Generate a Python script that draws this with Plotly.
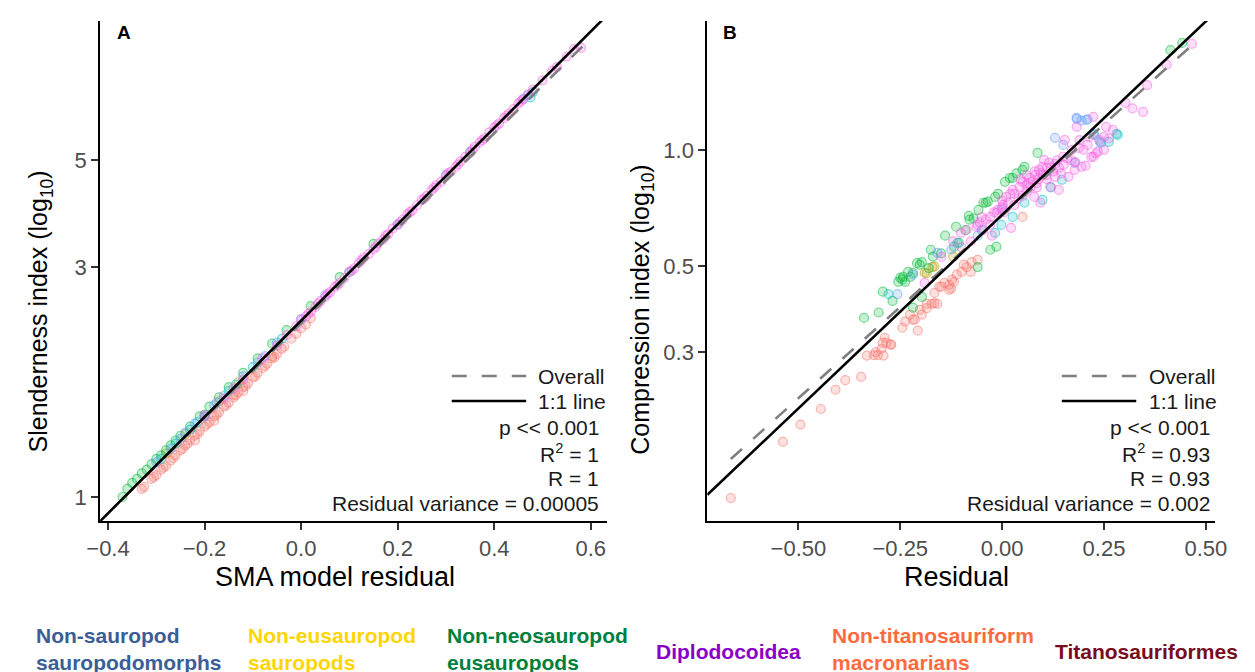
import plotly.graph_objects as go

# ---------------- categories & colours ----------------
groups = ["Diplodocoidea", "Non-eusauropod sauropods", "Non-neosauropod eusauropods",
          "Non-sauropod sauropodomorphs", "Non-titanosauriform macronarians", "Titanosauriformes"]
point_rgb = [(248, 118, 109), (183, 159, 0), (0, 186, 56), (0, 191, 196), (97, 156, 255), (245, 100, 227)]

# ---------------- Panel A: SMA model residual vs slenderness index ----------------
a_diplo_x = [-0.33, -0.31, -0.30, -0.29, -0.28, -0.27, -0.26, -0.25, -0.24, -0.23, -0.22, -0.22, -0.21, -0.20,
             -0.19, -0.18, -0.18, -0.17, -0.16, -0.15, -0.14, -0.14, -0.13, -0.12, -0.12, -0.11, -0.10, -0.09,
             -0.08, -0.07, -0.06, -0.06, -0.05, -0.04, -0.02, 0.00, 0.02,
             -0.325, -0.305, -0.285, -0.265, -0.245, -0.235, -0.215, -0.195, -0.175, -0.155, -0.135,
             -0.115, -0.095, -0.075, -0.055, -0.035, -0.01, 0.01]
a_diplo_y = [1.04, 1.09, 1.11, 1.14, 1.16, 1.19, 1.22, 1.25, 1.28, 1.31, 1.34, 1.31, 1.37, 1.40,
             1.43, 1.47, 1.44, 1.50, 1.54, 1.57, 1.61, 1.63, 1.65, 1.69, 1.66, 1.72, 1.77, 1.81,
             1.85, 1.89, 1.94, 1.96, 1.98, 2.03, 2.13, 2.24, 2.35,
             1.05, 1.10, 1.15, 1.205, 1.26, 1.29, 1.35, 1.415, 1.48, 1.55, 1.625,
             1.70, 1.78, 1.87, 1.95, 2.05, 2.18, 2.28]
a_noneu_x = [-0.28, -0.24, -0.20, -0.17, -0.13]
a_noneu_y = [1.23, 1.35, 1.48, 1.58, 1.73]
a_neo_x = [-0.37, -0.36, -0.35, -0.34, -0.33, -0.32, -0.31, -0.30, -0.29, -0.28, -0.27, -0.26, -0.25,
           -0.23, -0.21, -0.19, -0.17, -0.15, -0.12, -0.09, -0.06, -0.03, 0.02, 0.08, 0.15]
a_neo_y = [1.00, 1.04, 1.07, 1.09, 1.12, 1.14, 1.17, 1.20, 1.22, 1.25, 1.28, 1.31, 1.34,
           1.40, 1.47, 1.54, 1.61, 1.69, 1.81, 1.94, 2.08, 2.22, 2.49, 2.86, 3.35]
a_nonsaur_x = [-0.29, -0.26, -0.23, -0.20, -0.15, -0.10, -0.04, 0.10, 0.20, 0.35, 0.475, 0.48,
               -0.215, -0.135]
a_nonsaur_y = [1.20, 1.29, 1.38, 1.47, 1.66, 1.86, 2.13, 2.93, 3.68, 5.20, 6.75, 6.92,
               1.43, 1.71]
a_nontitan_x = [-0.30, -0.27, -0.25, -0.24, -0.22, -0.20, -0.18, -0.16, -0.12, -0.09, -0.05, 0.00, 0.05,
                0.30, 0.46, 0.47, -0.175, -0.075]
a_nontitan_y = [1.18, 1.26, 1.32, 1.36, 1.42, 1.48, 1.55, 1.62, 1.78, 1.90, 2.09, 2.34, 2.62,
                4.66, 6.70, 6.82, 1.57, 1.96]
a_titan_x = [-0.20, -0.16, -0.14, -0.12, -0.08, -0.05, -0.03, -0.01,
             0.00, 0.01, 0.02, 0.03, 0.04, 0.05, 0.06, 0.07, 0.08, 0.09, 0.10, 0.11, 0.12, 0.13, 0.14,
             0.15, 0.16, 0.17, 0.18, 0.19, 0.20, 0.21, 0.22, 0.23, 0.24, 0.25, 0.26, 0.27, 0.28, 0.29,
             0.30, 0.31, 0.32, 0.33, 0.34, 0.35, 0.36, 0.37, 0.38, 0.39, 0.40, 0.41, 0.42, 0.43, 0.44,
             0.45, 0.46, 0.47, 0.48, 0.50, 0.52, 0.55, 0.58,
             0.055, 0.105, 0.155, 0.205, 0.255, 0.305, 0.355, 0.405,
             0.015, 0.035, 0.075, 0.125, 0.175, 0.225, 0.275, 0.325, 0.375, 0.425, 0.455, 0.53, 0.565]
a_titan_y = [1.47, 1.60, 1.68, 1.75, 1.94, 2.06, 2.17, 2.26,
             2.33, 2.37, 2.42, 2.48, 2.55, 2.60, 2.66, 2.73, 2.78, 2.85, 2.93, 2.98, 3.06, 3.14, 3.19,
             3.27, 3.36, 3.42, 3.51, 3.61, 3.67, 3.76, 3.86, 3.93, 4.03, 4.14, 4.21, 4.33, 4.43, 4.51,
             4.64, 4.73, 4.84, 4.97, 5.08, 5.18, 5.33, 5.44, 5.55, 5.71, 5.84, 5.95, 6.11, 6.24, 6.38,
             6.55, 6.68, 6.84, 7.00, 7.32, 7.66, 8.20, 8.55,
             2.64, 2.95, 3.30, 3.72, 4.16, 4.70, 5.26, 5.90,
             2.40, 2.52, 2.75, 3.10, 3.48, 3.90, 4.38, 4.90, 5.50, 6.18, 6.62, 7.80, 8.50]

a_overall_x = [-0.37, 0.585]
a_overall_y = [0.991, 8.65]
a_one_x = [-0.4162, 0.6345]
a_one_y = [0.891, 10.01]

# ---------------- Panel B: residual vs compression index ----------------
b_diplo_x = [-0.666, -0.538, -0.495, -0.445, -0.409, -0.385, -0.346, -0.332, -0.315, -0.305,
             -0.291, -0.296, -0.284, -0.272, -0.288, -0.293, -0.274, -0.31, -0.245, -0.238,
             -0.219, -0.207, -0.197, -0.185, -0.185, -0.173, -0.166, -0.159, -0.166, -0.149,
             -0.142, -0.13, -0.123, -0.13, -0.226, -0.214, -0.202, -0.154, -0.125, -0.118,
             -0.111, -0.099, -0.087, -0.077, -0.094, -0.075, -0.06, 0.05]
b_diplo_y = [0.126, 0.176, 0.195, 0.214, 0.240, 0.254, 0.259, 0.294, 0.295, 0.295,
             0.294, 0.306, 0.317, 0.314, 0.327, 0.317, 0.314, 0.30, 0.347, 0.36,
             0.364, 0.341, 0.375, 0.39, 0.40, 0.40, 0.402, 0.40, 0.427, 0.443,
             0.453, 0.448, 0.462, 0.435, 0.375, 0.364, 0.386, 0.443, 0.438, 0.456,
             0.476, 0.484, 0.498, 0.484, 0.505, 0.513, 0.52, 0.671]
b_noneu_x = [-0.171, -0.19, -0.166, -0.185, -0.12]
b_noneu_y = [0.498, 0.481, 0.50, 0.48, 0.53]
b_neo_x = [-0.339, -0.303, -0.293, -0.269, -0.255, -0.25, -0.245, -0.243, -0.238, -0.231,
           -0.219, -0.209, -0.202, -0.197, -0.225, -0.18, -0.175, -0.17, -0.118, -0.106,
           -0.113, -0.082, -0.08, -0.07, -0.058, -0.046, -0.04, -0.035, -0.017, -0.01,
           0.007, 0.019, 0.026, 0.035, 0.05, 0.055, 0.087, -0.06, -0.029, -0.014,
           -0.197, -0.219, 0.413, 0.442, -0.15, -0.14, -0.09]
b_neo_y = [0.368, 0.38, 0.43, 0.407, 0.456, 0.467, 0.462, 0.47, 0.456, 0.484,
           0.481, 0.51, 0.505, 0.513, 0.47, 0.495, 0.552, 0.53, 0.562, 0.575,
           0.633, 0.675, 0.66, 0.665, 0.70, 0.73, 0.73, 0.735, 0.756, 0.77,
           0.827, 0.846, 0.846, 0.87, 0.888, 0.904, 0.982, 0.498, 0.552, 0.562,
           0.417, 0.391, 1.81, 1.89, 0.54, 0.60, 0.62]
b_nonsaur_x = [-0.279, -0.11, -0.017, -0.002, 0.026, 0.055, 0.099, 0.147, 0.243, 0.262, 0.281, 0.284,
               0.226, -0.05, 0.12]
b_nonsaur_y = [0.424, 0.575, 0.610, 0.640, 0.671, 0.730, 0.743, 0.837, 1.043, 1.049, 1.10, 1.093,
               1.093, 0.62, 0.80]
b_nontitan_x = [-0.257, -0.219, -0.159, -0.125, 0.13, 0.183, 0.195, 0.21, 0.183, 0.207, 0.15, 0.178,
                0.225, 0.24, 0.0, -0.06]
b_nontitan_y = [0.424, 0.476, 0.542, 0.552, 1.074, 1.21, 1.19, 1.20, 1.203, 1.195, 1.03, 0.926,
                1.10, 1.05, 0.70, 0.60]
b_titan_x = [-0.19, -0.149, -0.101, -0.087, -0.077, -0.063, -0.055, -0.046, -0.04, -0.029,
             -0.025, -0.014, -0.01, 0.002, 0.01, 0.015, 0.022, 0.026, 0.03, 0.043,
             0.05, 0.06, 0.067, 0.075, 0.079, 0.082, 0.091, 0.094, 0.099, 0.103,
             0.108, 0.115, 0.118, 0.125, 0.13, 0.135, 0.139, 0.145, 0.151, 0.154,
             0.163, 0.171, 0.178, 0.183, 0.188, 0.195, 0.205, 0.214, 0.219, 0.224,
             0.23, 0.238, 0.25, 0.255, 0.262, 0.272, 0.303, 0.346, 0.32, 0.356,
             0.404, 0.466, 0.224, -0.12, -0.10, -0.05, 0.0, 0.04, 0.06, 0.07,
             0.085, 0.11, 0.12, 0.16, 0.20, 0.03, 0.05, 0.10, 0.14, -0.03,
             0.005, 0.09, 0.17,
             0.06, 0.08, 0.095, 0.11, 0.065, 0.045, 0.085, 0.13, 0.15, 0.18,
             0.02, 0.0, -0.02, -0.06, 0.21, 0.19, 0.25, 0.235]
b_titan_y = [0.453, 0.529, 0.610, 0.621, 0.58, 0.633, 0.65, 0.621, 0.66, 0.671,
             0.60, 0.688, 0.70, 0.721, 0.756, 0.73, 0.629, 0.788, 0.77, 0.802,
             0.827, 0.81, 0.846, 0.83, 0.756, 0.862, 0.888, 0.730, 0.904, 0.942,
             0.86, 0.926, 0.802, 0.88, 0.852, 0.94, 0.788, 0.87, 0.915, 1.061,
             0.852, 1.0, 0.888, 1.147, 1.012, 0.904, 0.91, 1.080, 0.959, 1.217,
             0.98, 1.061, 1.0, 1.147, 1.07, 1.126, 1.323, 1.254, 1.28, 1.47,
             1.66, 1.88, 0.959, 0.58, 0.56, 0.67, 0.74, 0.75, 0.78, 0.80,
             0.82, 0.84, 0.90, 0.95, 1.0, 0.72, 0.76, 0.86, 0.9, 0.64,
             0.69, 0.84, 0.94,
             0.86, 0.88, 0.87, 0.90, 0.82, 0.84, 0.80, 0.92, 0.96, 0.93,
             0.77, 0.71, 0.69, 0.64, 1.03, 1.06, 1.08, 0.99]

b_overall_x = [-0.666, 0.4615]
b_overall_y = [0.159, 1.845]
b_one_x = [-0.7236, 0.5216]
b_one_y = [0.1284, 2.257]

# stats text
a_stats = ["p << 0.001", "R<sup>2</sup> = 1", "R = 1", "Residual variance = 0.00005"]
b_stats = ["p << 0.001", "R<sup>2</sup> = 0.93", "R = 0.93", "Residual variance = 0.002"]

caption_texts = ["Non-sauropod<br>sauropodomorphs", "Non-eusauropod<br>sauropods", "Non-neosauropod<br>eusauropods",
                 "Diplodocoidea", "Non-titanosauriform<br>macronarians", "Titanosauriformes"]
caption_colors = ["#3B5E97", "#FFD500", "#00803D", "#8A00C8", "#FF6B3E", "#7A0B1E"]

# ---------------- build figure ----------------
W, H = 1255, 672
FONT = "Liberation Sans, Arial, Helvetica, sans-serif"
fig = go.Figure()

a_sets = [(a_diplo_x, a_diplo_y), (a_noneu_x, a_noneu_y), (a_neo_x, a_neo_y),
          (a_nonsaur_x, a_nonsaur_y), (a_nontitan_x, a_nontitan_y), (a_titan_x, a_titan_y)]
b_sets = [(b_diplo_x, b_diplo_y), (b_noneu_x, b_noneu_y), (b_neo_x, b_neo_y),
          (b_nonsaur_x, b_nonsaur_y), (b_nontitan_x, b_nontitan_y), (b_titan_x, b_titan_y)]

for sets, xa, ya in [(a_sets, "x", "y"), (b_sets, "x2", "y2")]:
    for (xs, ys), name, (r, g, b) in zip(sets, groups, point_rgb):
        fig.add_trace(go.Scatter(
            x=xs, y=ys, mode="markers", name=name, showlegend=False, xaxis=xa, yaxis=ya,
            marker=dict(size=9, color=f"rgba({r},{g},{b},0.22)",
                        line=dict(color=f"rgba({r},{g},{b},0.5)", width=1.2))))

for (ox, oy, lx, ly, xa, ya) in [(a_overall_x, a_overall_y, a_one_x, a_one_y, "x", "y"),
                                 (b_overall_x, b_overall_y, b_one_x, b_one_y, "x2", "y2")]:
    fig.add_trace(go.Scatter(x=ox, y=oy, mode="lines", xaxis=xa, yaxis=ya, showlegend=False,
                             line=dict(color="#7F7F7F", width=2.6, dash="15px,15px")))
    fig.add_trace(go.Scatter(x=lx, y=ly, mode="lines", xaxis=xa, yaxis=ya, showlegend=False,
                             line=dict(color="black", width=2.6)))

def px(x):
    return x / W

def py(y):
    return 1 - y / H

ydom = [py(521), py(21)]
axis_common = dict(showline=True, linecolor="black", linewidth=2, ticks="outside", ticklen=7,
                   tickwidth=1.5, tickcolor="#333333", showgrid=False, zeroline=False,
                   tickfont=dict(family=FONT, size=22, color="#4D4D4D"), mirror=False)

fig.update_layout(
    width=W, height=H, margin=dict(l=0, r=0, t=0, b=0),
    plot_bgcolor="white", paper_bgcolor="white", showlegend=False,
    font=dict(family=FONT),
    xaxis=dict(domain=[px(88), px(606)], range=[-0.4162, 0.6345], anchor="y",
               tickvals=[-0.4, -0.2, 0.0, 0.2, 0.4, 0.6], tickformat=".1f", **axis_common),
    yaxis=dict(domain=ydom, type="log", range=[-0.0498, 0.9876], anchor="x",
               tickvals=[1, 3, 5], ticktext=["1", "3", "5"], **axis_common),
    xaxis2=dict(domain=[px(708), px(1226)], range=[-0.7236, 0.5216], anchor="y2",
                tickvals=[-0.5, -0.25, 0.0, 0.25, 0.5], tickformat=".2f", **axis_common),
    yaxis2=dict(domain=ydom, type="log", range=[-0.959, 0.333], anchor="x2",
                tickvals=[0.3, 0.5, 1.0], ticktext=["0.3", "0.5", "1.0"], **axis_common),
)

ann = []

def note(text, x, y, size, color="black", xanchor="center", angle=0, align="center"):
    ann.append(dict(text=text, x=px(x), y=py(y), xref="paper", yref="paper", showarrow=False,
                    xanchor=xanchor, yanchor="middle", textangle=angle, align=align,
                    font=dict(family=FONT, size=size, color=color)))

# panel labels
note("<b>A</b>", 112, 32, 19)
note("<b>B</b>", 731, 32, 19)
# axis titles
note("SMA model residual", 328, 577, 27)
note("Residual", 962, 577, 27)
note("Slenderness index (log<sub>10</sub>)", 27, 311, 25, angle=-90)
note("Compression index (log<sub>10</sub>)", 641, 310, 25, angle=-90)

# legends + stats
shapes = []
for key_x0, key_x1, text_left, right_edge, stats in [(447, 523, 533, 599, a_stats),
                                                      (1070, 1146, 1157, 1223, b_stats)]:
    shapes.append(dict(type="line", xref="paper", yref="paper", x0=px(key_x0), x1=px(key_x1),
                       y0=py(376), y1=py(376), line=dict(color="#7F7F7F", width=2.6, dash="15px,15px")))
    shapes.append(dict(type="line", xref="paper", yref="paper", x0=px(key_x0), x1=px(key_x1),
                       y0=py(401), y1=py(401), line=dict(color="black", width=2.6)))
    note("Overall", text_left, 376, 21, "#1A1A1A", xanchor="left")
    note("1:1 line", text_left, 401, 21, "#1A1A1A", xanchor="left")
    for i, t in enumerate(stats):
        note(t, right_edge, 427 + 25.5 * i, 21, "#1A1A1A", xanchor="right")

# caption
cap_x = [20, 237, 440, 654, 833, 1061]
cap_y = [649, 649, 649, 651, 649, 651]
for t, c, xx, yy in zip(caption_texts, caption_colors, cap_x, cap_y):
    note(f"<b>{t}</b>", xx, yy, 21, c, xanchor="left", align="left")

fig.update_layout(annotations=ann, shapes=shapes)
fig.write_html("out.html")
